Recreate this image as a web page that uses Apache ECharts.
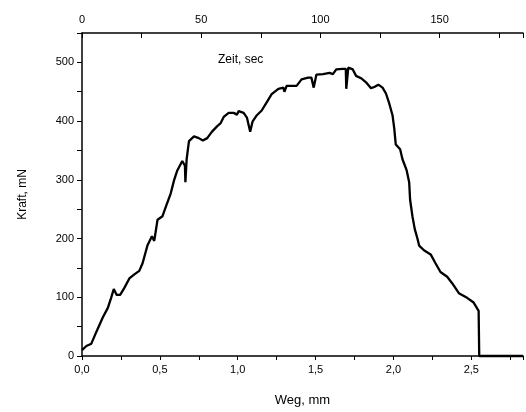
<!DOCTYPE html>
<html>
<head>
<meta charset="utf-8">
<script src="https://cdn.jsdelivr.net/npm/echarts@6/dist/echarts.min.js"></script>
<style>
  html, body { margin: 0; padding: 0; background: #fff; }
  #chart { width: 526px; height: 412px; }
</style>
</head>
<body>
<div id="chart"></div>
<script>
  // Weg (mm) and Kraft (mN)
  const wegMm = [
    0.000, 0.028, 0.060, 0.092, 0.134, 0.166, 0.187, 0.204, 0.223, 0.245,
    0.272, 0.304, 0.336, 0.368, 0.389, 0.420, 0.449, 0.464, 0.485, 0.517,
    0.538, 0.570, 0.591, 0.612, 0.644, 0.661, 0.664, 0.668, 0.672, 0.687,
    0.719, 0.750, 0.776, 0.804, 0.835, 0.867, 0.889, 0.910, 0.942, 0.974,
    0.995, 1.006, 1.038, 1.059, 1.080, 1.095, 1.123, 1.154, 1.186, 1.218,
    1.261, 1.293, 1.300, 1.314, 1.378, 1.410, 1.452, 1.473, 1.488, 1.492,
    1.505, 1.548, 1.590, 1.611, 1.633, 1.675, 1.694, 1.697, 1.703, 1.710,
    1.718, 1.739, 1.760, 1.792, 1.824, 1.856, 1.877, 1.903, 1.930, 1.952,
    1.973, 1.994, 2.005, 2.015, 2.043, 2.058, 2.085, 2.101, 2.107, 2.122,
    2.137, 2.154, 2.165, 2.196, 2.239, 2.270, 2.302, 2.345, 2.377, 2.420,
    2.473, 2.515, 2.547, 2.551, 2.551, 2.832
  ];
  const kraftMn = [
    10, 17, 21, 41, 66, 82, 99, 114, 104, 104,
    116, 132, 139, 145, 158, 188, 204, 196, 232, 238,
    254, 277, 299, 316, 332, 324, 296, 296, 335, 366,
    374, 371, 367, 371, 382, 391, 396, 407, 414, 414,
    411, 417, 414, 406, 382, 399, 410, 418, 432, 446,
    455, 457, 450, 460, 460, 471, 474, 474, 457, 457,
    479, 480, 482, 480, 488, 489, 489, 455, 455, 491,
    491, 488, 477, 473, 466, 456, 458, 462, 457, 447,
    430, 410, 388, 360, 352, 335, 316, 296, 266, 238,
    216, 200, 188, 180, 173, 158, 143, 135, 124, 107,
    99, 91, 77, 74, 0, 0
  ];
  const kraftTicks = [0, 100, 200, 300, 400, 500];
  const wegTicks = [0, 0.5, 1.0, 1.5, 2.0, 2.5];
  const zeitTicks = [0, 50, 100, 150];

  const FONT = "Liberation Sans, Arial, sans-serif";
  const near = (v, list) => list.some((t) => Math.abs(v - t) < 1e-6);

  const chart = echarts.init(document.getElementById("chart"), null, { renderer: "canvas" });
  chart.setOption({
    animation: false,
    title: {
      text: "Zeit, sec",
      left: 213,
      top: 49,
      textStyle: { fontFamily: FONT, fontSize: 12, fontWeight: "normal", color: "#000" }
    },
    grid: { left: 82, right: 0, top: 33, bottom: 49 },
    xAxis: [
      {
        type: "value",
        position: "bottom",
        min: 0,
        max: 2.832,
        interval: 0.25,
        name: "Weg, mm",
        nameLocation: "middle",
        nameGap: 38,
        nameTextStyle: { fontFamily: FONT, fontSize: 13, color: "#000" },
        axisLine: { lineStyle: { color: "#000", width: 1.5 } },
        axisTick: { length: 4, lineStyle: { color: "#000", width: 1 } },
        axisLabel: {
          fontFamily: FONT, fontSize: 11, color: "#000", margin: 8,
          formatter: (v) => near(v, wegTicks) ? v.toFixed(1).replace(".", ",") : ""
        },
        splitLine: { show: false }
      },
      {
        type: "value",
        position: "top",
        min: 0,
        max: 185,
        interval: 25,
        axisLine: { lineStyle: { color: "#000", width: 1.5 } },
        axisTick: { inside: true, length: 5, lineStyle: { color: "#000", width: 1 } },
        axisLabel: {
          fontFamily: FONT, fontSize: 11, color: "#000", margin: 8,
          formatter: (v) => near(v, zeitTicks) ? String(v) : ""
        },
        splitLine: { show: false }
      }
    ],
    yAxis: {
      type: "value",
      min: 0,
      max: 550,
      interval: 50,
      name: "Kraft, mN",
      nameLocation: "middle",
      nameGap: 53,
      nameTextStyle: { fontFamily: FONT, fontSize: 12, color: "#000" },
      axisLine: { show: true, lineStyle: { color: "#000", width: 1.5 } },
      axisTick: { show: true, length: 5, lineStyle: { color: "#000", width: 1 } },
      axisLabel: {
        fontFamily: FONT, fontSize: 11, color: "#000", margin: 8,
        formatter: (v) => near(v, kraftTicks) ? String(v) : ""
      },
      splitLine: { show: false }
    },
    series: [{
      type: "line",
      xAxisIndex: 0,
      data: wegMm.map((x, i) => [x, kraftMn[i]]),
      showSymbol: false,
      clip: false,
      lineStyle: { color: "#000", width: 2.3 }
    }]
  });
</script>
</body>
</html>
